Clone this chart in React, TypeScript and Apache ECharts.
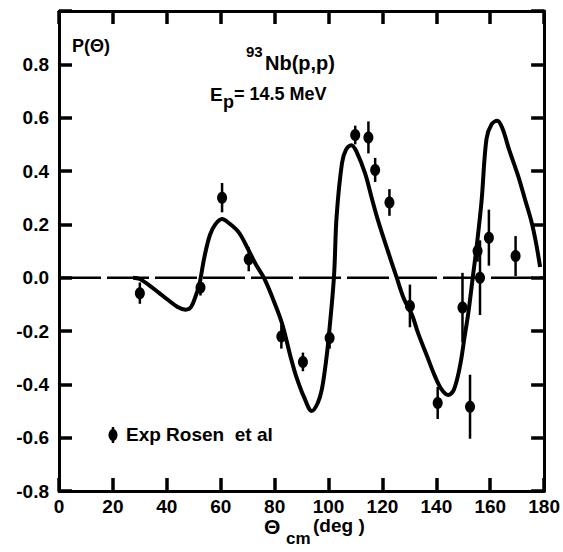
import React, { useEffect, useRef } from "react";
import * as echarts from "echarts";

// Experimental points (Rosen et al): angle (deg), polarization, error
const expTheta = [30, 52.5, 60.5, 70.4, 82.5, 90.5, 100.4, 109.9, 114.8, 117.3, 122.6, 130.2, 140.5, 149.7, 152.5, 155.3, 156.2, 159.5, 169.4];
const expP = [-0.058, -0.037, 0.3, 0.069, -0.221, -0.316, -0.226, 0.535, 0.526, 0.404, 0.282, -0.106, -0.47, -0.112, -0.484, 0.1, 0.0, 0.15, 0.081];
const expErr = [0.04, 0.03, 0.055, 0.045, 0.045, 0.035, 0.04, 0.035, 0.06, 0.045, 0.05, 0.08, 0.06, 0.13, 0.12, 0.04, 0.14, 0.105, 0.075];

// Theoretical curve
const theoryTheta = [27.5, 30, 33, 37, 40, 44, 47, 49, 51, 52, 54, 56, 58, 60.5, 63, 66.7, 70, 73, 76, 79, 82.7, 86, 88, 91, 93.8, 96, 97.5, 99, 100, 102, 103, 105, 106.5, 108.5, 110.5, 113.6, 116, 118.5, 122, 125.3, 128, 131, 133.3, 136.4, 139.5, 142, 144.4, 146.5, 148.8, 150.5, 151.9, 153.5, 155, 156.8, 158.6, 160.5, 162.6, 164.5, 167, 170.4, 173, 175.3, 177, 178.5];
const theoryP = [0.0, -0.005, -0.025, -0.056, -0.08, -0.11, -0.12, -0.11, -0.06, -0.03, 0.08, 0.16, 0.2, 0.22, 0.205, 0.17, 0.11, 0.05, 0.0, -0.07, -0.17, -0.3, -0.37, -0.45, -0.5, -0.47, -0.42, -0.32, -0.23, 0.0, 0.23, 0.43, 0.48, 0.497, 0.47, 0.39, 0.3, 0.21, 0.1, 0.0, -0.08, -0.14, -0.21, -0.29, -0.37, -0.42, -0.44, -0.42, -0.33, -0.22, -0.13, 0.0, 0.12, 0.29, 0.52, 0.575, 0.588, 0.56, 0.48, 0.38, 0.29, 0.21, 0.13, 0.04];

// Axis ranges and the zero reference line
const xTicks = { min: 0, max: 180, interval: 20 };
const yTicks = { min: -0.8, max: 1.0, interval: 0.2 };
const zeroLine = [[0, 0], [180, 0]];

const FONT = "Liberation Sans";

export default function App() {
  const ref = useRef<HTMLDivElement>(null);
  useEffect(() => {
    if (!ref.current) return;
    const chart = echarts.init(ref.current, null, { renderer: "svg" });
    const labelStyle = { color: "#000", fontSize: 19, fontWeight: "bold", fontFamily: FONT };
    const yFmt = (v: number) => {
      const r = Math.round(v * 10) / 10;
      if (Math.abs(r - 1) < 1e-6) return "";
      if (r === 0) return "0.0";
      return r.toFixed(1);
    };
    const errData = expTheta.map((t, i) => [t, expP[i], expErr[i]]);
    const curve = theoryTheta.map((t, i) => [t, theoryP[i]]);
    chart.setOption({
      animation: false,
      backgroundColor: "#fff",
      grid: { left: 59, right: 17, top: 11, bottom: 61 },
      xAxis: [
        {
          type: "value", position: "bottom", ...xTicks,
          axisLine: { show: true, onZero: false, lineStyle: { color: "#000", width: 3 } },
          axisTick: { show: true, inside: true, length: 13, lineStyle: { color: "#000", width: 3.5 } },
          axisLabel: { ...labelStyle, margin: 6 },
          splitLine: { show: false },
        },
        {
          type: "value", position: "top", ...xTicks,
          axisLine: { show: true, onZero: false, lineStyle: { color: "#000", width: 3 } },
          axisTick: { show: true, inside: true, length: 13, lineStyle: { color: "#000", width: 3.5 } },
          axisLabel: { show: false },
          splitLine: { show: false },
        },
      ],
      yAxis: [
        {
          type: "value", position: "left", ...yTicks,
          axisLine: { show: true, onZero: false, lineStyle: { color: "#000", width: 3 } },
          axisTick: { show: true, inside: true, length: 13, lineStyle: { color: "#000", width: 3.5 } },
          axisLabel: { ...labelStyle, margin: 10, formatter: yFmt },
          splitLine: { show: false },
        },
        {
          type: "value", position: "right", ...yTicks,
          axisLine: { show: true, onZero: false, lineStyle: { color: "#000", width: 3 } },
          axisTick: { show: true, inside: true, length: 13, lineStyle: { color: "#000", width: 3.5 } },
          axisLabel: { show: false },
          splitLine: { show: false },
        },
      ],
      series: [
        {
          type: "line",
          data: zeroLine,
          showSymbol: false,
          lineStyle: { color: "#000", width: 2.5, type: [42, 6] },
        },
        {
          type: "line",
          data: curve,
          showSymbol: false,
          smooth: 0.35,
          lineStyle: { color: "#000", width: 4 },
        },
        {
          type: "custom",
          data: errData,
          encode: { x: 0, y: 1 },
          renderItem: (params: any, api: any) => {
            const x = api.value(0);
            const y = api.value(1);
            const e = api.value(2);
            const p = api.coord([x, y]);
            const top = api.coord([x, y + e]);
            const bot = api.coord([x, y - e]);
            return {
              type: "group",
              children: [
                { type: "line", shape: { x1: p[0], y1: top[1], x2: p[0], y2: bot[1] }, style: { stroke: "#000", lineWidth: 2.5 } },
                { type: "ellipse", shape: { cx: p[0], cy: p[1], rx: 5, ry: 6 }, style: { fill: "#000" } },
              ],
            };
          },
        },
      ],
      graphic: [
        { type: "text", left: 72, top: 37, style: { text: "P(Θ)", font: `bold 18px "${FONT}"`, fill: "#000" } },
        { type: "text", left: 246, top: 44, style: { text: "93", font: `bold 15px "${FONT}"`, fill: "#000" } },
        { type: "text", left: 265, top: 53, style: { text: "Nb(p,p)", font: `bold 20px "${FONT}"`, fill: "#000" } },
        { type: "text", left: 210, top: 85, style: { text: "E", font: `bold 19px "${FONT}"`, fill: "#000" } },
        { type: "text", left: 223, top: 93, style: { text: "p", font: `bold 18px "${FONT}"`, fill: "#000" } },
        { type: "text", left: 234, top: 85, style: { text: "= 14.5 MeV", font: `bold 18px "${FONT}"`, fill: "#000" } },
        { type: "line", shape: { x1: 113, y1: 427, x2: 113, y2: 443 }, style: { stroke: "#000", lineWidth: 2.5 } },
        { type: "ellipse", shape: { cx: 113, cy: 435, rx: 4.5, ry: 6 }, style: { fill: "#000" } },
        { type: "text", left: 126, top: 425, style: { text: "Exp Rosen  et al", font: `bold 19px "${FONT}"`, fill: "#000" } },
        { type: "text", left: 264, top: 516, style: { text: "Θ", font: `bold 21px "${FONT}"`, fill: "#000" } },
        { type: "text", left: 286, top: 530, style: { text: "cm", font: `bold 17px "${FONT}"`, fill: "#000" } },
        { type: "text", left: 313, top: 516, style: { text: "(deg )", font: `bold 19px "${FONT}"`, fill: "#000" } },
      ],
    });
    return () => chart.dispose();
  }, []);
  return <div ref={ref} style={{ position: "fixed", left: 0, top: 0, width: 563, height: 552 }} />;
}
